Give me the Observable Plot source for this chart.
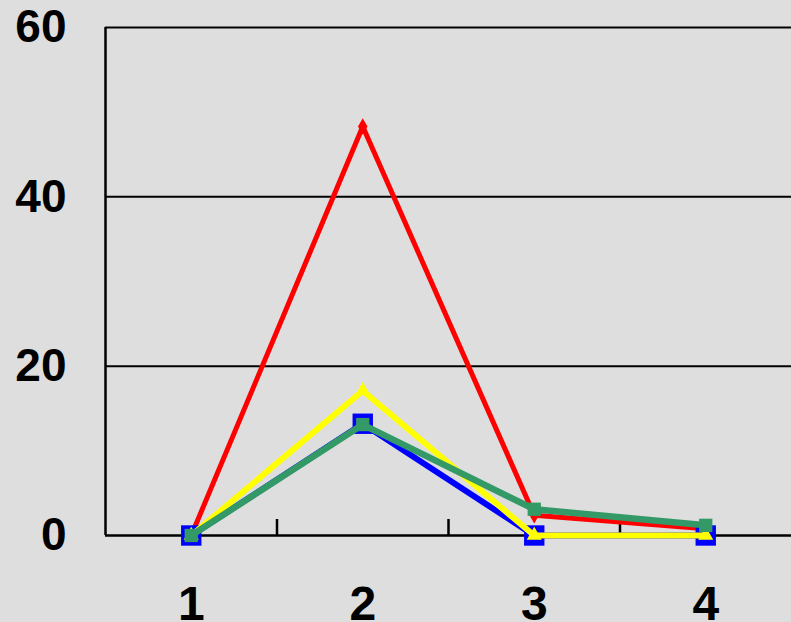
<!DOCTYPE html>
<html>
<head>
<meta charset="utf-8">
<script src="https://cdn.jsdelivr.net/npm/d3@7"></script>
<script src="https://cdn.jsdelivr.net/npm/@observablehq/plot@0.6"></script>
<style>
  html, body { margin: 0; padding: 0; background: #dedede; }
  #chart svg { display: block; }
</style>
</head>
<body>
<div id="chart"></div>
<script>
const categories = [1, 2, 3, 4];
const redValues = [0, 48.3, 2.4, 0.8];
const yellowValues = [0, 17.1, 0, 0];
const blueValues = [0, 13.2, 0, 0];
const greenValues = [0, 13.1, 3.1, 1.2];
const yTicks = [0, 20, 40, 60];
const gridValues = [20, 40, 60];
const dividerTicks = [1.5, 2.5, 3.5];

const toRows = (vals) => categories.map((c, i) => ({x: c, y: vals[i]}));
const red = toRows(redValues);
const yellow = toRows(yellowValues);
const blue = toRows(blueValues);
const green = toRows(greenValues);

const font = "'Liberation Sans', Arial, sans-serif";

const chart = Plot.plot({
  width: 791,
  height: 622,
  marginLeft: 105,
  marginRight: 0,
  marginTop: 27,
  marginBottom: 87,
  style: {background: "#dedede", fontFamily: font, overflow: "visible"},
  x: {domain: [0.5, 4.5], label: null},
  y: {domain: [0, 60], label: null},
  marks: [
    Plot.ruleY(gridValues, {stroke: "#000", strokeWidth: 2}),
    Plot.ruleY([0], {stroke: "#000", strokeWidth: 2.5}),
    Plot.ruleX([0.5], {stroke: "#000", strokeWidth: 2.5}),
    Plot.axisX(dividerTicks, {tickSize: -16, strokeWidth: 2.5, stroke: "#000", label: null, tickFormat: () => ""}),
    Plot.axisX(categories, {tickSize: 0, tickPadding: 50, fontSize: 48, fontWeight: "bold", fill: "#000", label: null, tickFormat: d => String(d)}),
    Plot.axisY(yTicks, {tickSize: 0, tickPadding: 39, fontSize: 46, fontWeight: "bold", fill: "#000", label: null}),
    Plot.line(red, {x: "x", y: "y", stroke: "#ff0000", strokeWidth: 5}),
    Plot.dot(red, {x: "x", y: "y", symbol: "diamond", r: 5, fill: "#ff0000", stroke: "none"}),
    Plot.line(blue, {x: "x", y: "y", stroke: "#0000ff", strokeWidth: 6}),
    Plot.dot(blue, {x: "x", y: "y", symbol: "square", r: 11.5, fill: "#0000ff", stroke: "none"}),
    Plot.line(yellow, {x: "x", y: "y", stroke: "#ffff00", strokeWidth: 6}),
    Plot.dot(yellow, {x: "x", y: "y", symbol: "triangle", r: 5.6, fill: "#ffff00", stroke: "none"}),
    Plot.line(green, {x: "x", y: "y", stroke: "#339966", strokeWidth: 6.5}),
    Plot.dot(green, {x: "x", y: "y", symbol: "square", r: 7.5, fill: "#339966", stroke: "none"})
  ]
});
document.getElementById("chart").appendChild(chart);
</script>
</body>
</html>
